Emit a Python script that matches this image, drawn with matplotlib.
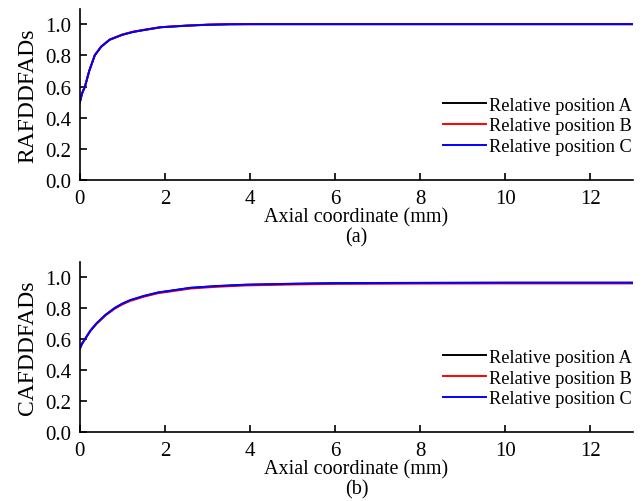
import numpy as np
import matplotlib
matplotlib.use("Agg")
import matplotlib.pyplot as plt

plt.rcParams['font.family'] = ['Liberation Serif', 'DejaVu Serif']
plt.rcParams['mathtext.fontset'] = 'stix'

# Axial coordinate (mm)
x = [0.0, 0.05, 0.12, 0.22, 0.35, 0.5, 0.7, 1.0, 1.25, 1.5, 1.9, 2.5, 3.0, 3.5, 4.0, 5.0, 6.0, 8.0, 10.0, 12.0, 13.0]

# RAFDDFADs
raf_A = [0.50, 0.555, 0.60, 0.70, 0.80, 0.855, 0.90, 0.932, 0.950, 0.962, 0.980, 0.990, 0.996, 0.999, 1.0, 1.0, 1.0, 1.0, 1.0, 1.0, 1.0]
raf_B = [0.50, 0.555, 0.60, 0.70, 0.801, 0.857, 0.902, 0.934, 0.952, 0.964, 0.981, 0.991, 0.997, 1.0, 1.0, 1.0, 1.0, 1.0, 1.0, 1.0, 1.0]
raf_C = [0.50, 0.555, 0.60, 0.70, 0.80, 0.855, 0.90, 0.932, 0.950, 0.962, 0.980, 0.990, 0.996, 0.999, 1.0, 1.0, 1.0, 1.0, 1.0, 1.0, 1.0]

# CAFDDFADs
caf_x = [0.0, 0.05, 0.12, 0.25, 0.39, 0.6, 0.82, 1.0, 1.18, 1.5, 1.84, 2.2, 2.6, 3.2, 3.9, 5.0, 6.0, 8.0, 10.0, 12.0, 13.0]
caf_A = [0.54, 0.57, 0.60, 0.655, 0.70, 0.755, 0.80, 0.828, 0.85, 0.877, 0.90, 0.914, 0.930, 0.941, 0.950, 0.956, 0.960, 0.962, 0.963, 0.963, 0.963]
caf_B = [0.54, 0.57, 0.60, 0.654, 0.698, 0.752, 0.796, 0.824, 0.846, 0.873, 0.896, 0.910, 0.926, 0.937, 0.946, 0.952, 0.956, 0.958, 0.959, 0.959, 0.959]
caf_C = [0.54, 0.57, 0.60, 0.656, 0.701, 0.756, 0.801, 0.829, 0.851, 0.878, 0.901, 0.915, 0.931, 0.942, 0.951, 0.957, 0.961, 0.963, 0.964, 0.964, 0.964]

labels = ['Relative position A', 'Relative position B', 'Relative position C']
colors = ['black', 'red', 'blue']
xticks = [0, 2, 4, 6, 8, 10, 12]
yticks = [0.0, 0.2, 0.4, 0.6, 0.8, 1.0]

fig = plt.figure(figsize=(6.44, 5.02), dpi=100)
ax1 = fig.add_axes([0.124, 0.639, 0.859, 0.342])
ax2 = fig.add_axes([0.124, 0.137, 0.859, 0.340])

for ax, xs, series, ylab, tag in [(ax1, x, [raf_A, raf_B, raf_C], 'RAFDDFADs', '(a)'),
                                  (ax2, caf_x, [caf_A, caf_B, caf_C], 'CAFDDFADs', '(b)')]:
    for s, c, l in zip(series, colors, labels):
        ax.plot(xs, s, color=c, lw=1.4, label=l)
    ax.set_xlim(0, 13)
    ax.set_ylim(0, 1.1)
    ax.set_xticks(xticks)
    ax.set_yticks(yticks)
    ax.set_yticklabels([f'{v:.1f}' for v in yticks])
    ax.spines['top'].set_visible(False)
    ax.spines['right'].set_visible(False)
    ax.tick_params(direction='in', labelsize=15, length=5, width=1.2, pad=6)
    for sp in ['left', 'bottom']:
        ax.spines[sp].set_linewidth(1.2)
    ax.set_ylabel(ylab, fontsize=17, labelpad=5)
    ax.set_xlabel('Axial coordinate (mm)\n' + tag, fontsize=14.5, labelpad=0, linespacing=1.05)
    ax.legend(loc='lower right', bbox_to_anchor=(1.018, 0.082), frameon=False, fontsize=13.2,
              handlelength=2.35, handletextpad=0.16, labelspacing=0.2, borderaxespad=0.2)

fig.savefig('out.png', dpi=100)
